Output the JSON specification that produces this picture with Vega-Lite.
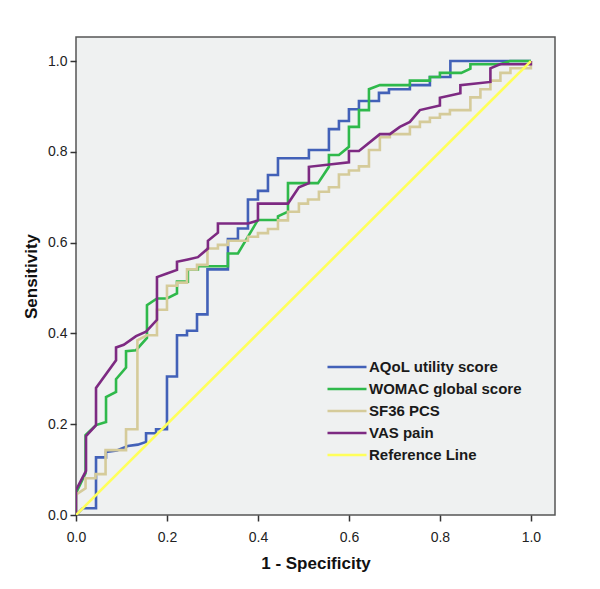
{
  "$schema": "https://vega.github.io/schema/vega-lite/v6.json",
  "width": 479,
  "height": 478,
  "autosize": {"type": "none"},
  "padding": {"left": 76, "top": 37, "right": 45, "bottom": 74},
  "background": "#ffffff",
  "datasets": {
    "roc": [
      {"s":"AQoL utility score","o":0,"x":0,"y":0},
      {"s":"AQoL utility score","o":1,"x":0.015,"y":0.015},
      {"s":"AQoL utility score","o":2,"x":0.044,"y":0.015},
      {"s":"AQoL utility score","o":3,"x":0.044,"y":0.127},
      {"s":"AQoL utility score","o":4,"x":0.066,"y":0.127},
      {"s":"AQoL utility score","o":5,"x":0.066,"y":0.139},
      {"s":"AQoL utility score","o":6,"x":0.09,"y":0.142},
      {"s":"AQoL utility score","o":7,"x":0.114,"y":0.152},
      {"s":"AQoL utility score","o":8,"x":0.136,"y":0.155},
      {"s":"AQoL utility score","o":9,"x":0.154,"y":0.161},
      {"s":"AQoL utility score","o":10,"x":0.154,"y":0.18},
      {"s":"AQoL utility score","o":11,"x":0.176,"y":0.18},
      {"s":"AQoL utility score","o":12,"x":0.176,"y":0.189},
      {"s":"AQoL utility score","o":13,"x":0.2,"y":0.189},
      {"s":"AQoL utility score","o":14,"x":0.2,"y":0.305},
      {"s":"AQoL utility score","o":15,"x":0.222,"y":0.305},
      {"s":"AQoL utility score","o":16,"x":0.222,"y":0.396},
      {"s":"AQoL utility score","o":17,"x":0.244,"y":0.396},
      {"s":"AQoL utility score","o":18,"x":0.244,"y":0.406},
      {"s":"AQoL utility score","o":19,"x":0.266,"y":0.406},
      {"s":"AQoL utility score","o":20,"x":0.266,"y":0.442},
      {"s":"AQoL utility score","o":21,"x":0.289,"y":0.442},
      {"s":"AQoL utility score","o":22,"x":0.289,"y":0.541},
      {"s":"AQoL utility score","o":23,"x":0.334,"y":0.541},
      {"s":"AQoL utility score","o":24,"x":0.334,"y":0.608},
      {"s":"AQoL utility score","o":25,"x":0.356,"y":0.608},
      {"s":"AQoL utility score","o":26,"x":0.356,"y":0.631},
      {"s":"AQoL utility score","o":27,"x":0.378,"y":0.631},
      {"s":"AQoL utility score","o":28,"x":0.378,"y":0.695},
      {"s":"AQoL utility score","o":29,"x":0.4,"y":0.695},
      {"s":"AQoL utility score","o":30,"x":0.4,"y":0.714},
      {"s":"AQoL utility score","o":31,"x":0.422,"y":0.714},
      {"s":"AQoL utility score","o":32,"x":0.422,"y":0.749},
      {"s":"AQoL utility score","o":33,"x":0.444,"y":0.749},
      {"s":"AQoL utility score","o":34,"x":0.444,"y":0.786},
      {"s":"AQoL utility score","o":35,"x":0.512,"y":0.786},
      {"s":"AQoL utility score","o":36,"x":0.512,"y":0.804},
      {"s":"AQoL utility score","o":37,"x":0.556,"y":0.804},
      {"s":"AQoL utility score","o":38,"x":0.556,"y":0.85},
      {"s":"AQoL utility score","o":39,"x":0.578,"y":0.85},
      {"s":"AQoL utility score","o":40,"x":0.578,"y":0.868},
      {"s":"AQoL utility score","o":41,"x":0.6,"y":0.868},
      {"s":"AQoL utility score","o":42,"x":0.6,"y":0.894},
      {"s":"AQoL utility score","o":43,"x":0.622,"y":0.894},
      {"s":"AQoL utility score","o":44,"x":0.622,"y":0.912},
      {"s":"AQoL utility score","o":45,"x":0.666,"y":0.912},
      {"s":"AQoL utility score","o":46,"x":0.666,"y":0.93},
      {"s":"AQoL utility score","o":47,"x":0.688,"y":0.93},
      {"s":"AQoL utility score","o":48,"x":0.688,"y":0.938},
      {"s":"AQoL utility score","o":49,"x":0.734,"y":0.938},
      {"s":"AQoL utility score","o":50,"x":0.734,"y":0.947},
      {"s":"AQoL utility score","o":51,"x":0.778,"y":0.947},
      {"s":"AQoL utility score","o":52,"x":0.778,"y":0.965},
      {"s":"AQoL utility score","o":53,"x":0.823,"y":0.965},
      {"s":"AQoL utility score","o":54,"x":0.823,"y":1.0},
      {"s":"AQoL utility score","o":55,"x":1.0,"y":1.0},

      {"s":"WOMAC global score","o":0,"x":0,"y":0},
      {"s":"WOMAC global score","o":1,"x":0,"y":0.048},
      {"s":"WOMAC global score","o":2,"x":0.021,"y":0.092},
      {"s":"WOMAC global score","o":3,"x":0.021,"y":0.176},
      {"s":"WOMAC global score","o":4,"x":0.044,"y":0.198},
      {"s":"WOMAC global score","o":5,"x":0.066,"y":0.205},
      {"s":"WOMAC global score","o":6,"x":0.066,"y":0.26},
      {"s":"WOMAC global score","o":7,"x":0.088,"y":0.271},
      {"s":"WOMAC global score","o":8,"x":0.088,"y":0.299},
      {"s":"WOMAC global score","o":9,"x":0.11,"y":0.325},
      {"s":"WOMAC global score","o":10,"x":0.11,"y":0.361},
      {"s":"WOMAC global score","o":11,"x":0.132,"y":0.363},
      {"s":"WOMAC global score","o":12,"x":0.156,"y":0.39},
      {"s":"WOMAC global score","o":13,"x":0.156,"y":0.462},
      {"s":"WOMAC global score","o":14,"x":0.178,"y":0.477},
      {"s":"WOMAC global score","o":15,"x":0.2,"y":0.477},
      {"s":"WOMAC global score","o":16,"x":0.222,"y":0.488},
      {"s":"WOMAC global score","o":17,"x":0.222,"y":0.514},
      {"s":"WOMAC global score","o":18,"x":0.246,"y":0.514},
      {"s":"WOMAC global score","o":19,"x":0.246,"y":0.541},
      {"s":"WOMAC global score","o":20,"x":0.268,"y":0.541},
      {"s":"WOMAC global score","o":21,"x":0.268,"y":0.548},
      {"s":"WOMAC global score","o":22,"x":0.334,"y":0.548},
      {"s":"WOMAC global score","o":23,"x":0.334,"y":0.576},
      {"s":"WOMAC global score","o":24,"x":0.356,"y":0.576},
      {"s":"WOMAC global score","o":25,"x":0.4,"y":0.65},
      {"s":"WOMAC global score","o":26,"x":0.444,"y":0.65},
      {"s":"WOMAC global score","o":27,"x":0.444,"y":0.658},
      {"s":"WOMAC global score","o":28,"x":0.466,"y":0.668},
      {"s":"WOMAC global score","o":29,"x":0.466,"y":0.731},
      {"s":"WOMAC global score","o":30,"x":0.532,"y":0.731},
      {"s":"WOMAC global score","o":31,"x":0.556,"y":0.767},
      {"s":"WOMAC global score","o":32,"x":0.556,"y":0.793},
      {"s":"WOMAC global score","o":33,"x":0.578,"y":0.793},
      {"s":"WOMAC global score","o":34,"x":0.6,"y":0.811},
      {"s":"WOMAC global score","o":35,"x":0.6,"y":0.855},
      {"s":"WOMAC global score","o":36,"x":0.622,"y":0.855},
      {"s":"WOMAC global score","o":37,"x":0.622,"y":0.892},
      {"s":"WOMAC global score","o":38,"x":0.644,"y":0.892},
      {"s":"WOMAC global score","o":39,"x":0.644,"y":0.938},
      {"s":"WOMAC global score","o":40,"x":0.668,"y":0.947},
      {"s":"WOMAC global score","o":41,"x":0.734,"y":0.947},
      {"s":"WOMAC global score","o":42,"x":0.734,"y":0.957},
      {"s":"WOMAC global score","o":43,"x":0.778,"y":0.957},
      {"s":"WOMAC global score","o":44,"x":0.778,"y":0.965},
      {"s":"WOMAC global score","o":45,"x":0.8,"y":0.965},
      {"s":"WOMAC global score","o":46,"x":0.8,"y":0.974},
      {"s":"WOMAC global score","o":47,"x":0.847,"y":0.974},
      {"s":"WOMAC global score","o":48,"x":0.867,"y":0.983},
      {"s":"WOMAC global score","o":49,"x":0.867,"y":0.993},
      {"s":"WOMAC global score","o":50,"x":0.932,"y":0.993},
      {"s":"WOMAC global score","o":51,"x":0.954,"y":1.0},
      {"s":"WOMAC global score","o":52,"x":1.0,"y":1.0},

      {"s":"SF36 PCS","o":0,"x":0,"y":0},
      {"s":"SF36 PCS","o":1,"x":0,"y":0.045},
      {"s":"SF36 PCS","o":2,"x":0.021,"y":0.059},
      {"s":"SF36 PCS","o":3,"x":0.021,"y":0.081},
      {"s":"SF36 PCS","o":4,"x":0.043,"y":0.081},
      {"s":"SF36 PCS","o":5,"x":0.043,"y":0.09},
      {"s":"SF36 PCS","o":6,"x":0.065,"y":0.09},
      {"s":"SF36 PCS","o":7,"x":0.065,"y":0.143},
      {"s":"SF36 PCS","o":8,"x":0.11,"y":0.143},
      {"s":"SF36 PCS","o":9,"x":0.11,"y":0.189},
      {"s":"SF36 PCS","o":10,"x":0.135,"y":0.189},
      {"s":"SF36 PCS","o":11,"x":0.135,"y":0.385},
      {"s":"SF36 PCS","o":12,"x":0.156,"y":0.396},
      {"s":"SF36 PCS","o":13,"x":0.178,"y":0.396},
      {"s":"SF36 PCS","o":14,"x":0.178,"y":0.452},
      {"s":"SF36 PCS","o":15,"x":0.2,"y":0.452},
      {"s":"SF36 PCS","o":16,"x":0.2,"y":0.505},
      {"s":"SF36 PCS","o":17,"x":0.222,"y":0.505},
      {"s":"SF36 PCS","o":18,"x":0.222,"y":0.512},
      {"s":"SF36 PCS","o":19,"x":0.244,"y":0.512},
      {"s":"SF36 PCS","o":20,"x":0.244,"y":0.541},
      {"s":"SF36 PCS","o":21,"x":0.266,"y":0.541},
      {"s":"SF36 PCS","o":22,"x":0.266,"y":0.551},
      {"s":"SF36 PCS","o":23,"x":0.289,"y":0.551},
      {"s":"SF36 PCS","o":24,"x":0.289,"y":0.587},
      {"s":"SF36 PCS","o":25,"x":0.312,"y":0.587},
      {"s":"SF36 PCS","o":26,"x":0.312,"y":0.595},
      {"s":"SF36 PCS","o":27,"x":0.334,"y":0.595},
      {"s":"SF36 PCS","o":28,"x":0.334,"y":0.604},
      {"s":"SF36 PCS","o":29,"x":0.378,"y":0.604},
      {"s":"SF36 PCS","o":30,"x":0.378,"y":0.613},
      {"s":"SF36 PCS","o":31,"x":0.4,"y":0.613},
      {"s":"SF36 PCS","o":32,"x":0.4,"y":0.621},
      {"s":"SF36 PCS","o":33,"x":0.422,"y":0.621},
      {"s":"SF36 PCS","o":34,"x":0.422,"y":0.63},
      {"s":"SF36 PCS","o":35,"x":0.444,"y":0.63},
      {"s":"SF36 PCS","o":36,"x":0.444,"y":0.649},
      {"s":"SF36 PCS","o":37,"x":0.466,"y":0.649},
      {"s":"SF36 PCS","o":38,"x":0.466,"y":0.668},
      {"s":"SF36 PCS","o":39,"x":0.49,"y":0.668},
      {"s":"SF36 PCS","o":40,"x":0.49,"y":0.686},
      {"s":"SF36 PCS","o":41,"x":0.51,"y":0.686},
      {"s":"SF36 PCS","o":42,"x":0.51,"y":0.695},
      {"s":"SF36 PCS","o":43,"x":0.534,"y":0.695},
      {"s":"SF36 PCS","o":44,"x":0.534,"y":0.712},
      {"s":"SF36 PCS","o":45,"x":0.556,"y":0.712},
      {"s":"SF36 PCS","o":46,"x":0.556,"y":0.722},
      {"s":"SF36 PCS","o":47,"x":0.578,"y":0.722},
      {"s":"SF36 PCS","o":48,"x":0.578,"y":0.75},
      {"s":"SF36 PCS","o":49,"x":0.6,"y":0.75},
      {"s":"SF36 PCS","o":50,"x":0.6,"y":0.759},
      {"s":"SF36 PCS","o":51,"x":0.622,"y":0.759},
      {"s":"SF36 PCS","o":52,"x":0.622,"y":0.768},
      {"s":"SF36 PCS","o":53,"x":0.644,"y":0.768},
      {"s":"SF36 PCS","o":54,"x":0.644,"y":0.804},
      {"s":"SF36 PCS","o":55,"x":0.668,"y":0.804},
      {"s":"SF36 PCS","o":56,"x":0.668,"y":0.832},
      {"s":"SF36 PCS","o":57,"x":0.69,"y":0.832},
      {"s":"SF36 PCS","o":58,"x":0.69,"y":0.839},
      {"s":"SF36 PCS","o":59,"x":0.734,"y":0.839},
      {"s":"SF36 PCS","o":60,"x":0.734,"y":0.855},
      {"s":"SF36 PCS","o":61,"x":0.756,"y":0.855},
      {"s":"SF36 PCS","o":62,"x":0.756,"y":0.866},
      {"s":"SF36 PCS","o":63,"x":0.778,"y":0.866},
      {"s":"SF36 PCS","o":64,"x":0.778,"y":0.875},
      {"s":"SF36 PCS","o":65,"x":0.8,"y":0.875},
      {"s":"SF36 PCS","o":66,"x":0.8,"y":0.883},
      {"s":"SF36 PCS","o":67,"x":0.822,"y":0.883},
      {"s":"SF36 PCS","o":68,"x":0.822,"y":0.892},
      {"s":"SF36 PCS","o":69,"x":0.867,"y":0.892},
      {"s":"SF36 PCS","o":70,"x":0.867,"y":0.92},
      {"s":"SF36 PCS","o":71,"x":0.889,"y":0.92},
      {"s":"SF36 PCS","o":72,"x":0.889,"y":0.938},
      {"s":"SF36 PCS","o":73,"x":0.911,"y":0.938},
      {"s":"SF36 PCS","o":74,"x":0.911,"y":0.957},
      {"s":"SF36 PCS","o":75,"x":0.933,"y":0.957},
      {"s":"SF36 PCS","o":76,"x":0.933,"y":0.974},
      {"s":"SF36 PCS","o":77,"x":0.955,"y":0.974},
      {"s":"SF36 PCS","o":78,"x":0.955,"y":0.984},
      {"s":"SF36 PCS","o":79,"x":1.0,"y":0.984},
      {"s":"SF36 PCS","o":80,"x":1.0,"y":1.0},

      {"s":"VAS pain","o":0,"x":0,"y":0},
      {"s":"VAS pain","o":1,"x":0,"y":0.055},
      {"s":"VAS pain","o":2,"x":0.022,"y":0.097},
      {"s":"VAS pain","o":3,"x":0.022,"y":0.174},
      {"s":"VAS pain","o":4,"x":0.044,"y":0.198},
      {"s":"VAS pain","o":5,"x":0.044,"y":0.28},
      {"s":"VAS pain","o":6,"x":0.088,"y":0.341},
      {"s":"VAS pain","o":7,"x":0.088,"y":0.369},
      {"s":"VAS pain","o":8,"x":0.105,"y":0.375},
      {"s":"VAS pain","o":9,"x":0.132,"y":0.394},
      {"s":"VAS pain","o":10,"x":0.154,"y":0.404},
      {"s":"VAS pain","o":11,"x":0.178,"y":0.43},
      {"s":"VAS pain","o":12,"x":0.178,"y":0.524},
      {"s":"VAS pain","o":13,"x":0.2,"y":0.532},
      {"s":"VAS pain","o":14,"x":0.222,"y":0.54},
      {"s":"VAS pain","o":15,"x":0.222,"y":0.558},
      {"s":"VAS pain","o":16,"x":0.246,"y":0.563},
      {"s":"VAS pain","o":17,"x":0.268,"y":0.568},
      {"s":"VAS pain","o":18,"x":0.29,"y":0.587},
      {"s":"VAS pain","o":19,"x":0.29,"y":0.604},
      {"s":"VAS pain","o":20,"x":0.312,"y":0.622},
      {"s":"VAS pain","o":21,"x":0.312,"y":0.642},
      {"s":"VAS pain","o":22,"x":0.378,"y":0.642},
      {"s":"VAS pain","o":23,"x":0.4,"y":0.649},
      {"s":"VAS pain","o":24,"x":0.4,"y":0.686},
      {"s":"VAS pain","o":25,"x":0.466,"y":0.686},
      {"s":"VAS pain","o":26,"x":0.49,"y":0.722},
      {"s":"VAS pain","o":27,"x":0.512,"y":0.731},
      {"s":"VAS pain","o":28,"x":0.512,"y":0.767},
      {"s":"VAS pain","o":29,"x":0.6,"y":0.777},
      {"s":"VAS pain","o":30,"x":0.6,"y":0.802},
      {"s":"VAS pain","o":31,"x":0.622,"y":0.802},
      {"s":"VAS pain","o":32,"x":0.668,"y":0.839},
      {"s":"VAS pain","o":33,"x":0.69,"y":0.839},
      {"s":"VAS pain","o":34,"x":0.712,"y":0.855},
      {"s":"VAS pain","o":35,"x":0.734,"y":0.866},
      {"s":"VAS pain","o":36,"x":0.756,"y":0.892},
      {"s":"VAS pain","o":37,"x":0.8,"y":0.902},
      {"s":"VAS pain","o":38,"x":0.8,"y":0.919},
      {"s":"VAS pain","o":39,"x":0.845,"y":0.929},
      {"s":"VAS pain","o":40,"x":0.845,"y":0.947},
      {"s":"VAS pain","o":41,"x":0.911,"y":0.954},
      {"s":"VAS pain","o":42,"x":0.911,"y":0.984},
      {"s":"VAS pain","o":43,"x":0.932,"y":0.993},
      {"s":"VAS pain","o":44,"x":1.0,"y":0.993},
      {"s":"VAS pain","o":45,"x":1.0,"y":1.0},

      {"s":"Reference Line","o":0,"x":0,"y":0},
      {"s":"Reference Line","o":1,"x":1,"y":1}
    ]
  },
  "data": {"name": "roc"},
  "mark": {"type": "line", "strokeWidth": 2.6, "interpolate": "linear", "strokeJoin": "miter", "strokeCap": "butt", "clip": true},
  "encoding": {
    "x": {
      "field": "x", "type": "quantitative",
      "scale": {"domain": [0, 1.053], "nice": false, "zero": false},
      "axis": {"title": "1 - Specificity", "values": [0, 0.2, 0.4, 0.6, 0.8, 1.0], "format": ".1f", "labelFlush": false, "labelPadding": 9, "titlePadding": 11}
    },
    "y": {
      "field": "y", "type": "quantitative",
      "scale": {"domain": [0, 1.053], "nice": false, "zero": false},
      "axis": {"title": "Sensitivity", "values": [0, 0.2, 0.4, 0.6, 0.8, 1.0], "format": ".1f", "labelFlush": false, "labelPadding": 3, "titlePadding": 7}
    },
    "color": {
      "field": "s", "type": "nominal",
      "scale": {
        "domain": ["AQoL utility score", "WOMAC global score", "SF36 PCS", "VAS pain", "Reference Line"],
        "range": ["#4261B8", "#2FB94B", "#D5CB9A", "#7D2A82", "#FFFF5A"]
      },
      "legend": {
        "title": null,
        "orient": "none",
        "legendX": 263,
        "legendY": 322,
        "symbolType": "M-3,0H3",
        "symbolSize": 169,
        "symbolStrokeWidth": 2.6,
        "labelOffset": 14,
        "rowPadding": 6,
        "labelFontSize": 15,
        "labelFontWeight": "bold",
        "labelFont": "Liberation Sans",
        "labelColor": "#1a1a1a",
        "padding": 0
      }
    },
    "order": {"field": "o", "type": "quantitative"}
  },
  "config": {
    "view": {"fill": "#EFF1F1", "stroke": "#555555", "strokeWidth": 1.5},
    "axis": {
      "grid": false,
      "domain": false,
      "tickSize": 6,
      "tickWidth": 1.5,
      "tickColor": "#333333",
      "labelFont": "Liberation Sans",
      "labelFontSize": 14,
      "labelColor": "#222222",
      "titleFont": "Liberation Sans",
      "titleFontSize": 17,
      "titleFontWeight": "bold",
      "titleColor": "#111111"
    }
  }
}
